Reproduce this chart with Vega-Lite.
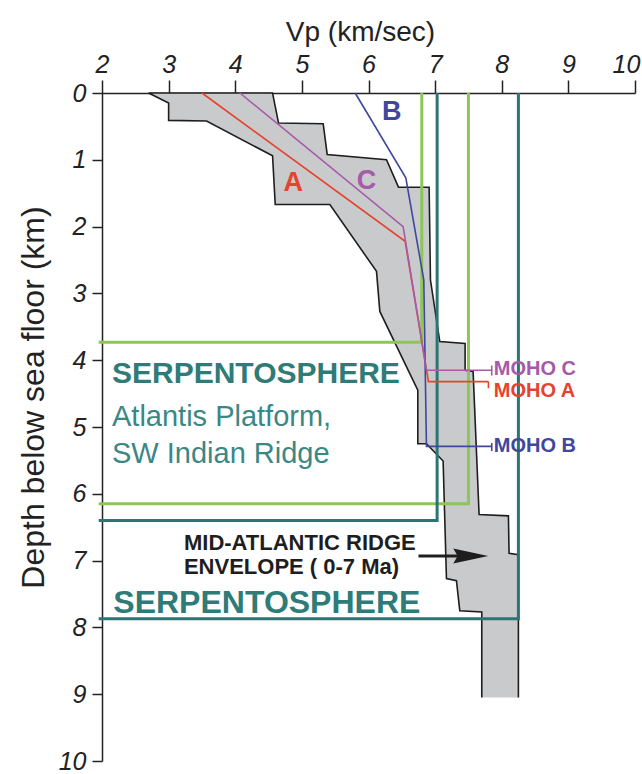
{
  "$schema": "https://vega.github.io/schema/vega-lite/v6.json",
  "width": 533,
  "height": 668,
  "autosize": {"type": "none"},
  "padding": {"left": 102, "top": 93, "right": 7, "bottom": 13},
  "background": "white",
  "config": {
    "view": {"stroke": null},
    "font": "Liberation Sans",
    "text": {"font": "Liberation Sans"}
  },
  "datasets": {
    "envelope": [
      {"i": 1, "vp": 8.25, "depth": 9.05},
      {"i": 2, "vp": 8.25, "depth": 6.91},
      {"i": 3, "vp": 8.11, "depth": 6.89},
      {"i": 4, "vp": 8.10, "depth": 6.33},
      {"i": 5, "vp": 7.66, "depth": 6.31},
      {"i": 6, "vp": 7.57, "depth": 4.17},
      {"i": 7, "vp": 7.45, "depth": 4.15},
      {"i": 8, "vp": 7.45, "depth": 3.75},
      {"i": 9, "vp": 7.07, "depth": 3.72},
      {"i": 10, "vp": 6.93, "depth": 2.80},
      {"i": 11, "vp": 6.91, "depth": 1.41},
      {"i": 12, "vp": 6.45, "depth": 1.41},
      {"i": 13, "vp": 6.27, "depth": 1.00},
      {"i": 14, "vp": 5.38, "depth": 0.92},
      {"i": 15, "vp": 5.32, "depth": 0.46},
      {"i": 16, "vp": 4.65, "depth": 0.45},
      {"i": 17, "vp": 4.56, "depth": 0.0},
      {"i": 18, "vp": 2.70, "depth": 0.0},
      {"i": 19, "vp": 3.00, "depth": 0.15},
      {"i": 20, "vp": 3.00, "depth": 0.41},
      {"i": 21, "vp": 3.57, "depth": 0.42},
      {"i": 22, "vp": 4.56, "depth": 0.94},
      {"i": 23, "vp": 4.60, "depth": 1.67},
      {"i": 24, "vp": 5.42, "depth": 1.67},
      {"i": 25, "vp": 6.12, "depth": 2.67},
      {"i": 26, "vp": 6.17, "depth": 3.27},
      {"i": 27, "vp": 6.74, "depth": 4.45},
      {"i": 28, "vp": 6.74, "depth": 5.25},
      {"i": 29, "vp": 6.87, "depth": 5.25},
      {"i": 30, "vp": 7.12, "depth": 5.51},
      {"i": 31, "vp": 7.17, "depth": 7.27},
      {"i": 32, "vp": 7.32, "depth": 7.30},
      {"i": 33, "vp": 7.37, "depth": 7.75},
      {"i": 34, "vp": 7.70, "depth": 7.77},
      {"i": 35, "vp": 7.70, "depth": 9.05},
      {"i": 36, "vp": 8.25, "depth": 9.05}
    ],
    "serpentosphere": [
      {"series": "Atlantis top", "i": 1, "vp": 1.95, "depth": 3.73},
      {"series": "Atlantis top", "i": 2, "vp": 6.80, "depth": 3.73},
      {"series": "Atlantis top", "i": 3, "vp": 6.80, "depth": 0.0},
      {"series": "Atlantis base", "i": 1, "vp": 1.95, "depth": 6.15},
      {"series": "Atlantis base", "i": 2, "vp": 7.50, "depth": 6.15},
      {"series": "Atlantis base", "i": 3, "vp": 7.50, "depth": 0.0},
      {"series": "MAR top", "i": 1, "vp": 1.95, "depth": 6.40},
      {"series": "MAR top", "i": 2, "vp": 7.03, "depth": 6.40},
      {"series": "MAR top", "i": 3, "vp": 7.03, "depth": 0.0},
      {"series": "MAR base", "i": 1, "vp": 1.95, "depth": 7.87},
      {"series": "MAR base", "i": 2, "vp": 8.25, "depth": 7.87},
      {"series": "MAR base", "i": 3, "vp": 8.25, "depth": 0.0}
    ],
    "profiles": [
      {"series": "A", "i": 1, "vp": 3.50, "depth": 0.0},
      {"series": "A", "i": 2, "vp": 6.55, "depth": 2.22},
      {"series": "A", "i": 3, "vp": 6.90, "depth": 4.32},
      {"series": "A", "i": 4, "vp": 7.80, "depth": 4.32},
      {"series": "B", "i": 1, "vp": 5.80, "depth": 0.0},
      {"series": "B", "i": 2, "vp": 6.56, "depth": 1.27},
      {"series": "B", "i": 3, "vp": 6.83, "depth": 2.80},
      {"series": "B", "i": 4, "vp": 6.87, "depth": 5.29},
      {"series": "B", "i": 5, "vp": 7.85, "depth": 5.29},
      {"series": "C", "i": 1, "vp": 4.07, "depth": 0.0},
      {"series": "C", "i": 2, "vp": 6.52, "depth": 2.00},
      {"series": "C", "i": 3, "vp": 6.87, "depth": 4.15},
      {"series": "C", "i": 4, "vp": 7.85, "depth": 4.15}
    ],
    "moho_ticks": [
      {"series": "C", "vp": 7.85, "top": 4.08, "bottom": 4.23},
      {"series": "A", "vp": 7.80, "top": 4.32, "bottom": 4.42},
      {"series": "B", "vp": 7.85, "top": 5.24, "bottom": 5.36}
    ],
    "profile_labels": [
      {"series": "A", "label": "A", "vp": 4.87, "depth": 1.35},
      {"series": "B", "label": "B", "vp": 6.35, "depth": 0.28},
      {"series": "C", "label": "C", "vp": 5.97, "depth": 1.32}
    ],
    "moho_labels": [
      {"series": "C", "label": "MOHO C", "vp": 7.88, "depth": 4.13},
      {"series": "A", "label": "MOHO A", "vp": 7.88, "depth": 4.46},
      {"series": "B", "label": "MOHO B", "vp": 7.88, "depth": 5.29}
    ]
  },
  "encoding": {
    "x": {
      "field": "vp",
      "type": "quantitative",
      "scale": {"domain": [2, 10], "nice": false, "zero": false},
      "axis": {
        "orient": "top",
        "values": [2, 3, 4, 5, 6, 7, 8, 9, 10],
        "grid": false,
        "tickSize": 13,
        "tickWidth": 1.5,
        "tickColor": "#222222",
        "domainWidth": 1.5,
        "domainColor": "#222222",
        "labelFontSize": 25,
        "labelFontStyle": "italic",
        "labelColor": "#222222",
        "labelPadding": 3,
        "labelFlush": false,
        "labelOffset": {"expr": "datum.value == 10 ? -9 : 0"},
        "title": "Vp (km/sec)",
        "titleFontSize": 28,
        "titleFontWeight": "normal",
        "titleColor": "#222222",
        "titlePadding": 6,
        "titleX": 258
      }
    },
    "y": {
      "field": "depth",
      "type": "quantitative",
      "scale": {"domain": [0, 10], "nice": false, "zero": false, "reverse": true},
      "axis": {
        "orient": "left",
        "values": [0, 1, 2, 3, 4, 5, 6, 7, 8, 9, 10],
        "grid": false,
        "tickSize": 10,
        "tickWidth": 1.5,
        "tickColor": "#222222",
        "domainWidth": 1.5,
        "domainColor": "#222222",
        "labelFontSize": 25,
        "labelFontStyle": "italic",
        "labelColor": "#222222",
        "labelPadding": 6,
        "labelFlush": false,
        "title": "Depth below sea floor (km)",
        "titleFontSize": 32,
        "titleFontWeight": "normal",
        "titleColor": "#222222",
        "titlePadding": 8,
        "titleY": 304
      }
    }
  },
  "layer": [
    {
      "data": {"name": "envelope"},
      "mark": {"type": "line", "fill": "#c9cacc", "stroke": null, "strokeWidth": 0, "interpolate": "linear"},
      "encoding": {"order": {"field": "i", "type": "quantitative"}}
    },
    {
      "data": {"name": "envelope"},
      "transform": [{"filter": "datum.i <= 35"}],
      "mark": {"type": "line", "color": "#1e1e1e", "strokeWidth": 1.6, "strokeJoin": "miter"},
      "encoding": {"order": {"field": "i", "type": "quantitative"}}
    },
    {
      "data": {"name": "serpentosphere"},
      "mark": {"type": "line", "strokeWidth": 3, "strokeJoin": "miter"},
      "encoding": {
        "order": {"field": "i", "type": "quantitative"},
        "color": {
          "field": "series",
          "type": "nominal",
          "legend": null,
          "scale": {
            "domain": ["Atlantis top", "Atlantis base", "MAR top", "MAR base", "A", "B", "C"],
            "range": ["#8cc655", "#8cc655", "#2c7574", "#2c7574", "#e5432d", "#3f479e", "#a65aa8"]
          }
        }
      }
    },
    {
      "data": {"name": "profiles"},
      "mark": {"type": "line", "strokeWidth": 1.6},
      "encoding": {
        "order": {"field": "i", "type": "quantitative"},
        "color": {"field": "series", "type": "nominal", "legend": null}
      }
    },
    {
      "data": {"name": "moho_ticks"},
      "mark": {"type": "rule", "strokeWidth": 1.6},
      "encoding": {
        "y": {"field": "top", "type": "quantitative"},
        "y2": {"field": "bottom"},
        "color": {"field": "series", "type": "nominal", "legend": null}
      }
    },
    {
      "data": {"name": "profile_labels"},
      "mark": {"type": "text", "fontSize": 27, "fontWeight": "bold", "align": "center", "baseline": "middle"},
      "encoding": {
        "text": {"field": "label"},
        "color": {"field": "series", "type": "nominal", "legend": null}
      }
    },
    {
      "data": {"name": "moho_labels"},
      "mark": {"type": "text", "fontSize": 20, "fontWeight": "bold", "align": "left", "baseline": "middle"},
      "encoding": {
        "text": {"field": "label"},
        "color": {"field": "series", "type": "nominal", "legend": null}
      }
    },
    {
      "data": {"values": [{"label": "SERPENTOSPHERE", "vp": 2.15, "depth": 4.34}]},
      "mark": {"type": "text", "fontSize": 30, "fontWeight": "bold", "align": "left", "baseline": "alphabetic", "color": "#2e7b78"},
      "encoding": {"text": {"field": "label"}}
    },
    {
      "data": {"values": [
        {"label": "Atlantis Platform,", "vp": 2.15, "depth": 4.99},
        {"label": "SW Indian Ridge", "vp": 2.15, "depth": 5.54}
      ]},
      "mark": {"type": "text", "fontSize": 29, "align": "left", "baseline": "alphabetic", "color": "#3a8786"},
      "encoding": {"text": {"field": "label"}}
    },
    {
      "data": {"values": [
        {"label": "MID-ATLANTIC RIDGE", "vp": 3.23, "depth": 6.84},
        {"label": "ENVELOPE ( 0-7 Ma)", "vp": 3.23, "depth": 7.20}
      ]},
      "mark": {"type": "text", "fontSize": 22, "fontWeight": "bold", "align": "left", "baseline": "alphabetic", "color": "#1e1e1e"},
      "encoding": {"text": {"field": "label"}}
    },
    {
      "data": {"values": [{"label": "SERPENTOSPHERE", "vp": 2.17, "depth": 7.79}]},
      "mark": {"type": "text", "fontSize": 32, "fontWeight": "bold", "align": "left", "baseline": "alphabetic", "color": "#2e7b78"},
      "encoding": {"text": {"field": "label"}}
    },
    {
      "data": {"values": [{"vp": 6.75, "vp_end": 7.40, "depth": 6.93}]},
      "mark": {"type": "rule", "strokeWidth": 3, "color": "#1e1e1e"},
      "encoding": {"x2": {"field": "vp_end"}}
    },
    {
      "data": {"values": [{"vp": 7.535, "depth": 6.93}]},
      "mark": {
        "type": "point",
        "shape": "M-1,-0.43L1,0L-1,0.43L-0.75,0Z",
        "size": 1225,
        "filled": true,
        "color": "#1e1e1e",
        "opacity": 1
      }
    }
  ]
}
